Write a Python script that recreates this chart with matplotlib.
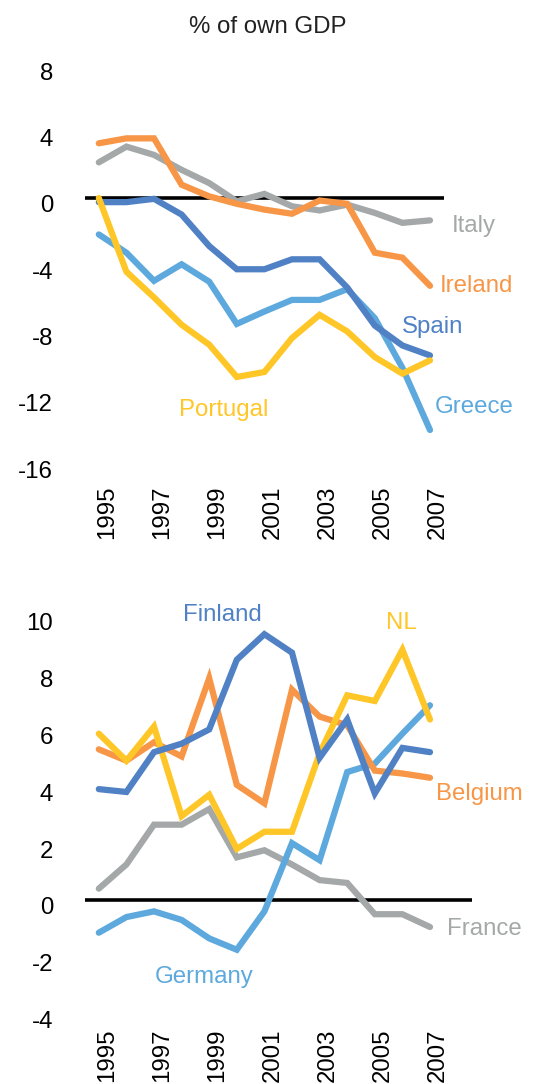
import matplotlib
matplotlib.use("Agg")
import matplotlib.pyplot as plt
from matplotlib.transforms import ScaledTranslation

plt.rcParams['font.family'] = ['Liberation Sans', 'DejaVu Sans']

years = list(range(1995, 2008))
year_ticks = [1995, 1997, 1999, 2001, 2003, 2005, 2007]

# Top panel (periphery)
ireland = [3.3, 3.6, 3.6, 0.8, 0.1, -0.35, -0.7, -0.95, -0.15, -0.35, -3.3, -3.6, -5.3]
italy = [2.15, 3.1, 2.6, 1.7, 0.9, -0.2, 0.25, -0.5, -0.75, -0.4, -0.9, -1.5, -1.35]
spain = [-0.25, -0.25, -0.05, -1.0, -2.9, -4.3, -4.3, -3.7, -3.7, -5.4, -7.7, -8.9, -9.5]
greece = [-2.2, -3.3, -5.0, -4.0, -5.05, -7.6, -6.85, -6.15, -6.15, -5.5, -7.25, -10.25, -14.0]
portugal = [0.0, -4.45, -6.0, -7.65, -8.85, -10.8, -10.5, -8.45, -7.05, -8.05, -9.6, -10.6, -9.8]
top_ticks = [8, 4, 0, -4, -8, -12, -16]

# Bottom panel (core)
finland = [3.9, 3.8, 5.2, 5.5, 6.0, 8.45, 9.35, 8.7, 5.0, 6.35, 3.75, 5.35, 5.2]
belgium = [5.3, 4.9, 5.55, 5.05, 7.8, 4.05, 3.4, 7.4, 6.45, 6.15, 4.55, 4.45, 4.3]
nl = [5.85, 4.9, 6.1, 2.95, 3.7, 1.8, 2.4, 2.4, 5.15, 7.2, 7.0, 8.8, 6.35]
france = [0.4, 1.25, 2.65, 2.65, 3.2, 1.5, 1.75, 1.25, 0.7, 0.6, -0.5, -0.5, -0.95]
germany = [-1.15, -0.6, -0.4, -0.7, -1.35, -1.75, -0.4, 2.0, 1.4, 4.5, 4.8, 5.85, 6.85]
bottom_ticks = [10, 8, 6, 4, 2, 0, -2, -4]

ORANGE = '#F79646'
GRAY = '#A5A8A8'
DBLUE = '#4F81C4'
LBLUE = '#5DA9DD'
YELLOW = '#FFC627'

W, H = 560, 1084
fig = plt.figure(figsize=(W / 100, H / 100), dpi=100)

def ax_rect(left, right, top, bottom):
    return [left / W, 1 - bottom / H, (right - left) / W, (bottom - top) / H]

FS = 17.3
LW = 4.5

def style(ax, ylim, ticks, xpad):
    ax.set_ylim(*ylim)
    for s in ax.spines.values():
        s.set_visible(False)
    ax.set_yticks(ticks)
    ax.set_yticklabels([str(t) for t in ticks], fontsize=FS)
    ax.tick_params(axis='y', length=0, pad=23)
    ax.set_xticks(year_ticks)
    ax.set_xticklabels([str(y) for y in year_ticks], rotation=90, fontsize=FS)
    ax.tick_params(axis='x', length=0, pad=xpad)
    off = ScaledTranslation(0, -6 / 100, fig.dpi_scale_trans)
    for lab in ax.get_yticklabels():
        lab.set_transform(lab.get_transform() + off)
    offx = ScaledTranslation(8 / 100, 0, fig.dpi_scale_trans)
    for lab in ax.get_xticklabels():
        lab.set_transform(lab.get_transform() + offx)
    ax.axhline(0, color='black', lw=2.6, zorder=1)
    ax.patch.set_visible(False)

PX_PER_YEAR = 27.6

# Top axes: zero at y=198, 16.57 px/unit
top_px = 198 - 8 * 16.57
bot_px = 198 + 16 * 16.57
ax1 = fig.add_axes(ax_rect(85, 444, top_px, bot_px))
ax1.set_xlim(1994.5, 1994.5 + (444 - 85) / PX_PER_YEAR)
style(ax1, (-16, 8), top_ticks, 16)
for vals, col in [(italy, GRAY), (ireland, ORANGE), (greece, LBLUE), (spain, DBLUE), (portugal, YELLOW)]:
    ax1.plot(years, vals, color=col, lw=LW, solid_capstyle='round', solid_joinstyle='miter', zorder=3)

fig.text(268 / W, 1 - 27 / H, '% of own GDP', fontsize=FS, ha='center', va='center', color='#222222')

def lab(x_px, y_px, text, col, ha='left'):
    fig.text(x_px / W, 1 - y_px / H, text, color=col, fontsize=FS, ha=ha, va='center')

lab(452, 226, 'Italy', GRAY)
lab(440, 286, 'Ireland', ORANGE)
lab(402, 327, 'Spain', DBLUE)
lab(435, 407, 'Greece', LBLUE)
lab(179, 410, 'Portugal', YELLOW)

# Bottom axes: zero at y=900, 28.43 px/unit
top2 = 900 - 10 * 28.43
bot2 = 900 + 4 * 28.43
ax2 = fig.add_axes(ax_rect(85, 472, top2, bot2))
ax2.set_xlim(1994.5, 1994.5 + (472 - 85) / PX_PER_YEAR)
style(ax2, (-4, 10), bottom_ticks, 11)
for vals, col in [(france, GRAY), (germany, LBLUE), (belgium, ORANGE), (nl, YELLOW), (finland, DBLUE)]:
    ax2.plot(years, vals, color=col, lw=LW, solid_capstyle='round', solid_joinstyle='miter', zorder=3)

lab(183, 615, 'Finland', DBLUE)
lab(386, 623, 'NL', YELLOW)
lab(436, 794, 'Belgium', ORANGE)
lab(447, 929, 'France', GRAY)
lab(155, 977, 'Germany', LBLUE)

fig.savefig('out.png', dpi=100)
